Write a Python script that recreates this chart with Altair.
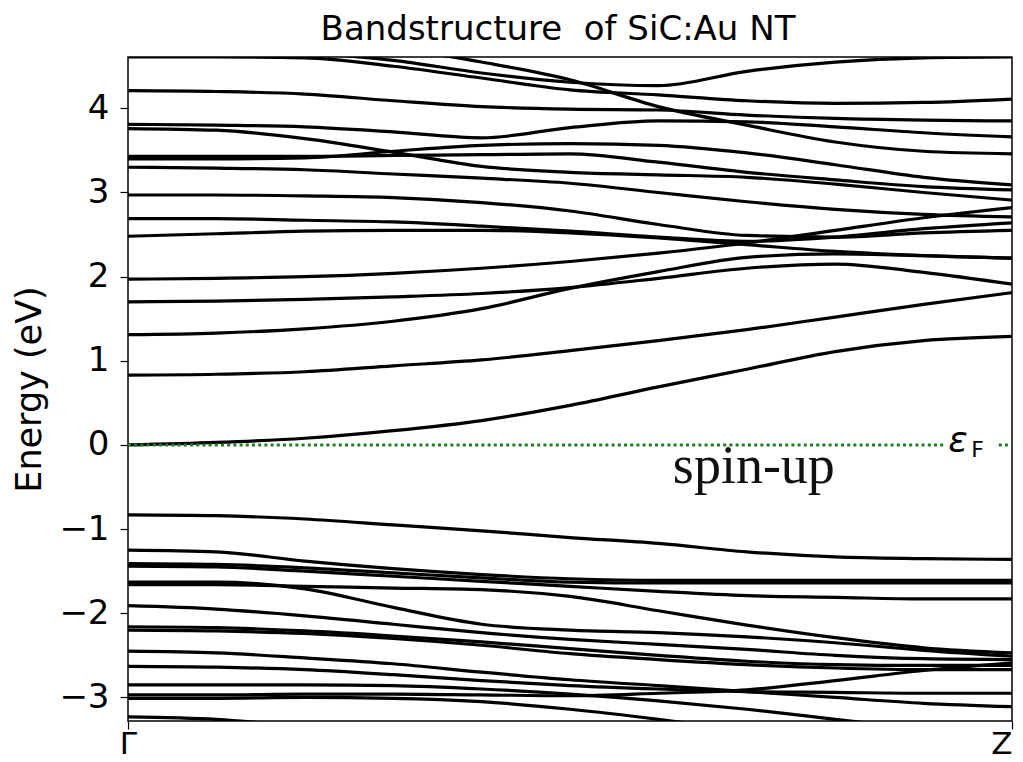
import altair as alt
import pandas as pd

# k-path sample positions (fraction of the Γ→Z path)
k_points = [0.0, 0.1, 0.2, 0.3, 0.4, 0.5, 0.6, 0.7, 0.8, 0.9, 1.0]

# valence bands (eV)
V1 = [-0.83, -0.84, -0.88, -0.95, -1.02, -1.10, -1.17, -1.27, -1.33, -1.35, -1.36]
V2 = [-1.25, -1.27, -1.38, -1.47, -1.54, -1.59, -1.61, -1.61, -1.61, -1.61, -1.61]
V3 = [-1.41, -1.42, -1.46, -1.52, -1.58, -1.63, -1.64, -1.64, -1.64, -1.64, -1.64]
V4 = [-1.44, -1.45, -1.50, -1.56, -1.62, -1.68, -1.74, -1.79, -1.81, -1.83, -1.83]
V5 = [-1.63, -1.63, -1.71, -1.93, -2.13, -2.20, -2.23, -2.28, -2.35, -2.44, -2.51]
V6 = [-1.66, -1.66, -1.68, -1.70, -1.72, -1.80, -1.97, -2.14, -2.29, -2.41, -2.47]
V7 = [-1.91, -1.95, -2.03, -2.13, -2.23, -2.31, -2.37, -2.43, -2.50, -2.54, -2.55]
V8 = [-2.16, -2.17, -2.21, -2.27, -2.34, -2.42, -2.50, -2.57, -2.61, -2.62, -2.62]
V9 = [-2.20, -2.21, -2.24, -2.30, -2.38, -2.48, -2.55, -2.61, -2.65, -2.67, -2.67]
V10 = [-2.45, -2.47, -2.53, -2.60, -2.70, -2.79, -2.86, -2.93, -3.00, -3.07, -3.11]
V11 = [-2.63, -2.64, -2.67, -2.73, -2.80, -2.86, -2.90, -2.93, -2.94, -2.95, -2.95]
V12 = [-2.85, -2.85, -2.85, -2.86, -2.90, -2.96, -3.04, -3.14, -3.26, -3.38, -3.50]
V13 = [-2.97, -2.97, -2.96, -2.96, -2.97, -2.98, -2.95, -2.91, -2.80, -2.68, -2.59]
V14 = [-3.01, -3.01, -3.00, -3.01, -3.05, -3.14, -3.26, -3.40, -3.55, None, None]
V15 = [-3.23, -3.26, -3.35, -3.45, None, None, None, None, None, None, None]

# conduction bands (eV)
C1 = [0.00, 0.03, 0.08, 0.17, 0.29, 0.47, 0.69, 0.90, 1.11, 1.24, 1.29]
C2 = [0.83, 0.84, 0.87, 0.94, 1.01, 1.12, 1.24, 1.37, 1.52, 1.67, 1.81]
C3 = [1.31, 1.33, 1.38, 1.47, 1.62, 1.86, 2.06, 2.23, 2.27, 2.25, 2.22]
C4 = [1.70, 1.71, 1.73, 1.76, 1.80, 1.87, 1.98, 2.10, 2.15, 2.05, 1.91]
C5 = [1.97, 1.98, 2.00, 2.04, 2.10, 2.18, 2.28, 2.40, 2.55, 2.70, 2.82]
C6 = [2.48, 2.51, 2.54, 2.55, 2.55, 2.52, 2.46, 2.38, 2.30, 2.25, 2.22]
C7 = [2.69, 2.69, 2.67, 2.65, 2.60, 2.54, 2.47, 2.42, 2.47, 2.57, 2.64]
C8 = [2.97, 2.97, 2.96, 2.94, 2.88, 2.78, 2.62, 2.49, 2.47, 2.52, 2.55]
C9 = [3.30, 3.29, 3.27, 3.22, 3.17, 3.11, 3.00, 2.89, 2.80, 2.74, 2.71]
C10 = [3.40, 3.40, 3.41, 3.49, 3.56, 3.58, 3.56, 3.47, 3.33, 3.18, 3.09]
C11 = [3.43, 3.43, 3.43, 3.44, 3.45, 3.46, 3.36, 3.24, 3.15, 3.07, 3.03]
C12 = [3.76, 3.74, 3.64, 3.48, 3.31, 3.24, 3.21, 3.18, 3.10, 3.00, 2.91]
C13 = [3.81, 3.80, 3.78, 3.72, 3.65, 3.77, 3.85, 3.84, 3.78, 3.71, 3.66]
C14 = [4.21, 4.20, 4.17, 4.09, 4.02, 3.99, 3.98, 3.92, 3.88, 3.86, 3.85]
T0 = [4.61, 4.61, 4.60, 4.50, 4.36, 4.22, 4.16, 4.09, 4.06, 4.07, 4.11]
T1 = [None, None, 4.66, 4.57, 4.42, 4.31, 4.27, 4.44, 4.55, 4.60, 4.61]
T2 = [None, None, None, 4.72, 4.55, 4.34, 4.02, 3.80, 3.60, 3.49, 3.46]

bands = {
    "V1": V1, "V2": V2, "V3": V3, "V4": V4, "V5": V5, "V6": V6, "V7": V7,
    "V8": V8, "V9": V9, "V10": V10, "V11": V11, "V12": V12, "V13": V13,
    "V14": V14, "V15": V15,
    "C1": C1, "C2": C2, "C3": C3, "C4": C4, "C5": C5, "C6": C6, "C7": C7,
    "C8": C8, "C9": C9, "C10": C10, "C11": C11, "C12": C12, "C13": C13,
    "C14": C14, "T0": T0, "T1": T1, "T2": T2,
}

rows = []
for name, vals in bands.items():
    for k, e in zip(k_points, vals):
        if e is not None:
            rows.append({"band": name, "k": k, "E": e})
df = pd.DataFrame(rows)

y_domain = [-3.28, 4.61]
x_scale = alt.Scale(domain=[0, 1], nice=False, zero=False)
y_scale = alt.Scale(domain=y_domain, nice=False, zero=False)

x_axis = alt.Axis(
    values=[0, 1], labelExpr="datum.value == 0 ? 'Γ' : 'Z'", title="",
    grid=False, domain=False, tickSize=8, tickColor="black", tickWidth=1.2,
    labelFontSize=31, labelFont="DejaVu Sans", labelColor="black",
    labelPadding=0, labelFlush=False,
    labelAlign={"condition": {"test": "datum.value == 1", "value": "right"},
                "value": "center"},
)
y_axis = alt.Axis(
    values=[-3, -2, -1, 0, 1, 2, 3, 4], format="d", title="Energy (eV)",
    grid=False, domain=False, tickSize=8, tickColor="black", tickWidth=1.2,
    labelFontSize=34, labelFont="DejaVu Sans", labelColor="black",
    labelPadding=11, titleFontSize=35, titleFont="DejaVu Sans",
    titleFontWeight="normal", titleColor="black", titlePadding=11,
)

lines = alt.Chart(df).mark_line(
    color="black", strokeWidth=3.2, interpolate="monotone", clip=True
).encode(
    x=alt.X("k:Q", scale=x_scale, axis=x_axis),
    y=alt.Y("E:Q", scale=y_scale, axis=y_axis),
    detail="band:N",
)

fermi_df = pd.DataFrame({"k": [0.0, 0.985], "k2": [0.924, 1.0], "E": [0.0, 0.0]})
fermi = alt.Chart(fermi_df).mark_rule(
    color="#1e7d1e", strokeDash=[3, 3.2], strokeWidth=3
).encode(x="k:Q", x2="k2:Q", y="E:Q")

eps_df = pd.DataFrame({"k": [0.939], "E": [-0.085], "t": ["ε"]})
eps = alt.Chart(eps_df).mark_text(
    font="DejaVu Sans", fontStyle="italic", fontSize=36, align="center",
    baseline="alphabetic", color="black"
).encode(x="k:Q", y="E:Q", text="t:N")

sub_df = pd.DataFrame({"k": [0.961], "E": [-0.145], "t": ["F"]})
sub = alt.Chart(sub_df).mark_text(
    font="DejaVu Sans", fontSize=22, align="center", baseline="alphabetic",
    color="black"
).encode(x="k:Q", y="E:Q", text="t:N")

spin_df = pd.DataFrame({"k": [0.708], "E": [-0.45], "t": ["spin-up"]})
spin = alt.Chart(spin_df).mark_text(
    font="Liberation Serif", fontSize=54, align="center", baseline="alphabetic",
    color="#111111"
).encode(x="k:Q", y="E:Q", text="t:N")

chart = alt.layer(lines, fermi, eps, sub, spin).properties(
    width=884, height=664,
    title=alt.TitleParams(
        "Bandstructure\u00a0 of SiC:Au NT", fontSize=34, font="DejaVu Sans",
        fontWeight="normal", color="black", anchor="middle", offset=10,
        dx=-12,
    ),
    autosize=alt.AutoSizeParams(type="none"),
    padding={"left": 120, "top": 49, "right": 3, "bottom": 33},
).configure_view(stroke="black", strokeWidth=1.5)

chart.save("out.html", embed_options={"renderer": "svg", "actions": False})
